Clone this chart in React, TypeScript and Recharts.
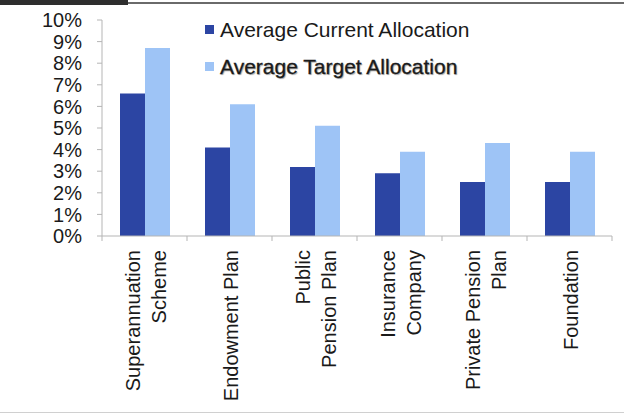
import React from 'react';
import { BarChart, Bar, XAxis, YAxis } from 'recharts';

const categories = [
  'Superannuation|Scheme',
  'Endowment Plan',
  'Public|Pension Plan',
  'Insurance|Company',
  'Private Pension|Plan',
  'Foundation',
];
const currentAllocation = [6.6, 4.1, 3.2, 2.9, 2.5, 2.5];
const targetAllocation = [8.7, 6.1, 5.1, 3.9, 4.3, 3.9];
const yTicks = [0, 1, 2, 3, 4, 5, 6, 7, 8, 9, 10];
const seriesNames = ['Average Current Allocation', 'Average Target Allocation'];

const W = 624;
const H = 416;
const M = { top: 20, right: 12, left: 0, bottom: 0 };
const Y_W = 102;
const X_H = 180;
const FONT = '"Liberation Sans", Arial, sans-serif';
const DARK = '#2C45A3';
const LIGHT = '#9EC4F6';
const AXIS = '#b5b5b5';

const data = categories.map((c, i) => ({
  name: c,
  current: currentAllocation[i],
  target: targetAllocation[i],
}));

const band = (W - M.left - M.right - Y_W) / categories.length;

function XTick(props: any) {
  const { x, y, payload, index } = props;
  const lines = String(payload.value).split('|');
  const offs = lines.length === 1 ? [1] : [-12, 14];
  return (
    <g>
      {index === 0 && (
        <line x1={x - band / 2} x2={x - band / 2} y1={y} y2={y + 5} stroke={AXIS} />
      )}
      <line x1={x + band / 2} x2={x + band / 2} y1={y} y2={y + 5} stroke={AXIS} />
      <g transform={`translate(${x},${y + 14})`}>
        <text
          transform="rotate(-90)"
          textAnchor="end"
          fontSize={20}
          fontFamily={FONT}
          fill="#1a1a1a"
        >
          {lines.map((l, i) => (
            <tspan key={i} x={0} y={offs[i]} dominantBaseline="central">
              {l}
            </tspan>
          ))}
        </text>
      </g>
    </g>
  );
}

function LegendBox() {
  const colors = [DARK, LIGHT];
  return (
    <div
      style={{
        position: 'absolute',
        left: 205,
        top: 11,
        fontFamily: FONT,
        fontSize: 21,
        color: '#1a1a1a',
      }}
    >
      {seriesNames.map((label, i) => (
        <div
          key={label}
          style={{ display: 'flex', alignItems: 'center', height: 37, whiteSpace: 'nowrap' }}
        >
          <span
            style={{
              display: 'inline-block',
              width: 9,
              height: 9,
              background: colors[i],
              marginRight: 6,
            }}
          />
          <span
            style={
              i === 1
                ? { textShadow: '1px 1px 1px rgba(0,0,0,0.35)', WebkitTextStroke: '0.3px #1a1a1a' }
                : undefined
            }
          >
            {label}
          </span>
        </div>
      ))}
    </div>
  );
}

export default function App() {
  return (
    <div
      style={{
        position: 'fixed',
        left: 0,
        top: 0,
        width: W,
        height: H,
        background: '#fff',
        overflow: 'hidden',
      }}
    >
      <BarChart width={W} height={H} data={data} margin={M} barGap={0} barSize={25}>
        <XAxis
          dataKey="name"
          interval={0}
          height={X_H}
          stroke={AXIS}
          tickLine={false}
          tickSize={0}
          tickMargin={0}
          tick={<XTick />}
        />
        <YAxis
          width={Y_W}
          domain={[0, 10]}
          ticks={yTicks}
          interval={0}
          stroke={AXIS}
          tickSize={5}
          tickMargin={15}
          tickFormatter={(v: number) => `${v}%`}
          tick={{ fontSize: 20, fontFamily: FONT, fill: '#1a1a1a' }}
        />
        <Bar dataKey="current" name={seriesNames[0]} fill={DARK} isAnimationActive={false} />
        <Bar dataKey="target" name={seriesNames[1]} fill={LIGHT} isAnimationActive={false} />
      </BarChart>
      <LegendBox />
      <div style={{ position: 'absolute', left: 0, top: 0, width: 128, height: 5, background: '#2e2e2e' }} />
      <div style={{ position: 'absolute', left: 128, top: 2, width: W - 128, height: 2, background: '#6a6a6a' }} />
      <div style={{ position: 'absolute', left: 0, top: 412, width: W, height: 1, background: '#d0d0d0' }} />
    </div>
  );
}
